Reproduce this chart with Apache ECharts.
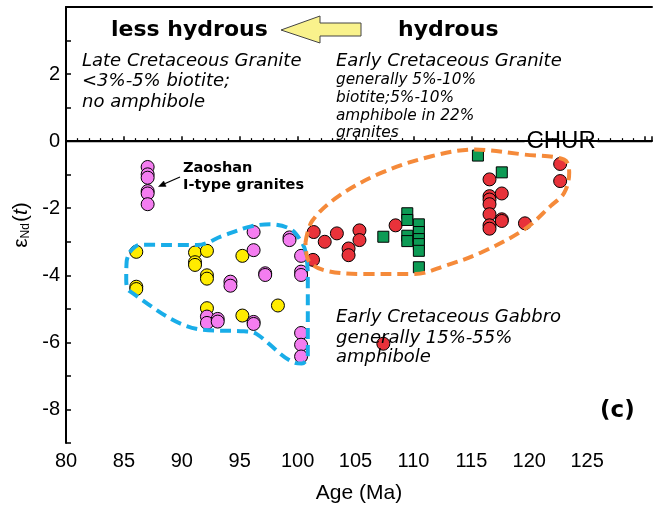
<!DOCTYPE html>
<html>
<head>
<meta charset="utf-8">
<script src="https://cdn.jsdelivr.net/npm/echarts@6/dist/echarts.min.js"></script>
<style>
  html, body { margin: 0; padding: 0; background: #fff; }
  #chart { width: 655px; height: 509px; }
</style>
</head>
<body>
<div id="chart"></div>
<script>
// Age (Ma) vs eNd(t), one [age, eNd] pair per sample
const yellowPts = [
  [86.07, -3.30], [86.07, -4.34], [86.07, -4.41],
  [91.14, -3.32], [91.14, -3.61], [91.14, -3.69],
  [92.17, -3.27], [92.17, -4.00], [92.17, -4.10], [92.17, -4.98],
  [95.23, -3.42], [95.23, -5.20], [98.30, -4.90]
];
const pinkPts = [
  [87.05, -0.77], [87.05, -0.99], [87.05, -1.09], [87.05, -1.49], [87.05, -1.56], [87.05, -1.88],
  [92.17, -5.23], [92.17, -5.42], [93.10, -5.30], [93.10, -5.38],
  [94.20, -4.19], [94.20, -4.31],
  [96.20, -2.71], [96.20, -3.25], [96.20, -5.39], [96.20, -5.45],
  [97.20, -3.94], [97.20, -3.99],
  [99.30, -2.87], [99.30, -2.95],
  [100.30, -3.42], [100.30, -3.89], [100.30, -3.99],
  [100.30, -5.72], [100.30, -6.07], [100.30, -6.42]
];
const redPts = [
  [101.39, -2.71], [101.33, -3.54], [102.34, -3.00], [103.39, -2.75],
  [104.40, -3.20], [104.40, -3.40], [105.34, -2.66], [105.34, -2.95],
  [108.46, -2.51], [107.40, -6.04],
  [116.57, -1.14], [116.57, -1.64], [116.57, -1.74], [116.57, -1.88],
  [116.57, -2.18], [116.57, -2.51], [116.57, -2.61],
  [117.63, -1.56], [117.63, -2.33], [117.63, -2.38],
  [119.63, -2.45], [122.67, -0.68], [122.67, -1.19]
];
const greenPts = [
  [107.40, -2.85],
  [109.47, -2.15], [109.47, -2.35], [109.47, -2.82], [109.47, -2.98],
  [110.47, -2.48], [110.47, -2.71], [110.47, -2.92], [110.47, -3.07], [110.47, -3.27], [110.47, -3.76],
  [115.57, -0.43], [117.63, -0.93]
];

// field outlines (closed loops)
const blueOutline = [
  [85.50, -3.31], [86.36, -3.09], [91.34, -3.10], [93.49, -2.83], [95.98, -2.54],
  [97.70, -2.48], [99.42, -2.63], [100.27, -2.97], [100.70, -3.31], [100.88, -4.11],
  [100.88, -6.39], [100.36, -6.63], [99.67, -6.60], [96.41, -5.74], [95.38, -5.67],
  [91.68, -5.62], [85.50, -4.47], [85.20, -4.11], [85.24, -3.58], [85.50, -3.31]
];
const orangeOutline = [
  [100.68, -3.02], [101.25, -2.38], [103.54, -1.64], [107.26, -0.94], [111.56, -0.45],
  [115.28, -0.25], [119.58, -0.40], [123.02, -0.55], [123.45, -0.94], [123.02, -1.54],
  [121.86, -1.93], [119.58, -2.63], [115.85, -3.32], [112.71, -3.72], [110.13, -3.96],
  [105.83, -3.96], [102.40, -3.86], [100.96, -3.57], [100.68, -3.02]
];

// CHUR reference line, broken around its label
const churLine = [[80, 0], [119.6, 0], ['-', '-'], [125.9, 0], [130.6, 0]];
const churLabelAt = [122.75, 0];

const xTicks = { min: 80, max: 130.6, step: 5, lastLabel: 125 };
const yTicks = { min: -9, max: 4, step: 1 };

const axisFont = 'Liberation Sans';
const noteFont = 'DejaVu Sans';

function scatter(data, color, symbol, size) {
  return {
    type: 'scatter', data, symbol, symbolSize: size, z: 3,
    itemStyle: { color, borderColor: '#000', borderWidth: 1, opacity: 1 }
  };
}
function outline(data, color) {
  return {
    type: 'line', data, smooth: 0.35, symbol: 'none', z: 4,
    lineStyle: { color, width: 4, type: [11, 6] }
  };
}
function note(text, x, y, font) {
  return {
    type: 'text', x, y, z: 10,
    style: { text, font, fill: '#000', textAlign: 'left', textVerticalAlign: 'middle', align: 'left', verticalAlign: 'middle' }
  };
}

const notes = [
  note('less hydrous', 111, 30, 'bold 22px "' + noteFont + '"'),
  note('hydrous', 398, 30, 'bold 22px "' + noteFont + '"'),
  {
    type: 'polygon', z: 10,
    shape: { points: [[281, 30], [320, 16], [320, 23], [361, 23], [361, 36], [320, 36], [320, 43]] },
    style: { fill: '#f9f28c', stroke: '#444', lineWidth: 1 }
  },
  note('Late Cretaceous Granite', 82, 61, 'italic 18px "' + noteFont + '"'),
  note('<3%-5% biotite;', 82, 81.5, 'italic 18px "' + noteFont + '"'),
  note('no amphibole', 82, 102, 'italic 18px "' + noteFont + '"'),
  note('Early Cretaceous Granite', 336, 61, 'italic 18px "' + noteFont + '"'),
  note('generally 5%-10%', 336, 80, 'italic 15.3px "' + noteFont + '"'),
  note('biotite;5%-10%', 336, 98, 'italic 15.3px "' + noteFont + '"'),
  note('amphibole in 22%', 336, 116, 'italic 15.3px "' + noteFont + '"'),
  note('granites', 336, 133.5, 'italic 15.3px "' + noteFont + '"'),
  note('Zaoshan', 183, 168, 'bold 14.5px "' + noteFont + '"'),
  note('I-type granites', 183, 185, 'bold 14.5px "' + noteFont + '"'),
  {
    type: 'polyline', z: 10,
    shape: { points: [[180, 177], [164, 184]] },
    style: { stroke: '#000', lineWidth: 1.3, fill: null }
  },
  {
    type: 'polygon', z: 10,
    shape: { points: [[158.5, 186.5], [166.1, 186.4], [163.7, 181.0]] },
    style: { fill: '#000', stroke: '#000', lineWidth: 0.5 }
  },
  note('Early Cretaceous Gabbro', 336, 317, 'italic 18px "' + noteFont + '"'),
  note('generally 15%-55%', 336, 338, 'italic 18px "' + noteFont + '"'),
  note('amphibole', 336, 357, 'italic 18px "' + noteFont + '"'),
  note('(c)', 600, 411, 'bold 23px "' + noteFont + '"')
];

const chart = echarts.init(document.getElementById('chart'), null, { renderer: 'canvas' });
chart.setOption({
  animation: false,
  grid: { left: 66, right: 0, top: 7, bottom: 64 },
  xAxis: [{
    type: 'value', min: xTicks.min, max: xTicks.max, interval: xTicks.step,
    name: 'Age (Ma)', nameLocation: 'middle', nameGap: 40,
    nameTextStyle: { fontFamily: axisFont, fontSize: 21, color: '#000' },
    axisLine: { lineStyle: { color: '#000', width: 2 } },
    axisTick: { inside: true, length: 5, lineStyle: { color: '#000', width: 1.5 } },
    minorTick: { show: true, splitNumber: 5, length: 3, lineStyle: { color: '#000', width: 1.2 } },
    axisLabel: {
      fontFamily: axisFont, fontSize: 20, color: '#000', margin: 8,
      formatter: v => (v <= xTicks.lastLabel ? String(v) : '')
    },
    splitLine: { show: false }
  }, {
    type: 'value', position: 'top', min: xTicks.min, max: xTicks.max,
    axisLine: { show: true, lineStyle: { color: '#000', width: 2 } },
    axisTick: { show: false }, axisLabel: { show: false }, splitLine: { show: false }
  }],
  yAxis: {
    type: 'value', min: yTicks.min, max: yTicks.max, interval: yTicks.step,
    name: '{e|ε}{s|Nd}{p|(}{t|t}{p|)}', nameLocation: 'middle', nameGap: 34, nameRotate: 90,
    nameTextStyle: {
      color: '#000',
      rich: {
        e: { fontFamily: axisFont, fontSize: 21, color: '#000', verticalAlign: 'bottom', lineHeight: 24 },
        s: { fontFamily: axisFont, fontSize: 12, color: '#000', verticalAlign: 'bottom', lineHeight: 24, padding: [0, 1, 0, 0] },
        p: { fontFamily: axisFont, fontSize: 21, color: '#000', verticalAlign: 'bottom', lineHeight: 24 },
        t: { fontFamily: axisFont, fontSize: 21, fontStyle: 'italic', color: '#000', verticalAlign: 'bottom', lineHeight: 24 }
      }
    },
    axisLine: { show: true, lineStyle: { color: '#000', width: 2 } },
    axisTick: { inside: true, length: 5, lineStyle: { color: '#000', width: 1.5 } },
    axisLabel: {
      fontFamily: axisFont, fontSize: 20, color: '#000', margin: 6,
      formatter: v => (v % 2 === 0 && v < yTicks.max ? String(v) : '')
    },
    splitLine: { show: false }
  },
  series: [
    {
      type: 'line', data: churLine, symbol: 'none', z: 2, connectNulls: false,
      lineStyle: { color: '#000', width: 2 }
    },
    scatter(yellowPts, '#ffec00', 'circle', 13),
    scatter(pinkPts, '#f47df0', 'circle', 13),
    scatter(redPts, '#e8323a', 'circle', 13),
    scatter(greenPts, '#0d9b55', 'rect', 11),
    outline(blueOutline, '#19ade8'),
    outline(orangeOutline, '#f58a3a')
  ]
});

// CHUR label sits in the gap of the reference line
const churPx = chart.convertToPixel({ gridIndex: 0 }, churLabelAt);
chart.setOption({
  graphic: notes.concat([{
    type: 'text', x: churPx[0], y: churPx[1], z: 10,
    style: {
      text: 'CHUR', font: '24px "' + axisFont + '"', fill: '#000',
      textAlign: 'center', textVerticalAlign: 'middle', align: 'center', verticalAlign: 'middle'
    }
  }])
});
</script>
</body>
</html>
